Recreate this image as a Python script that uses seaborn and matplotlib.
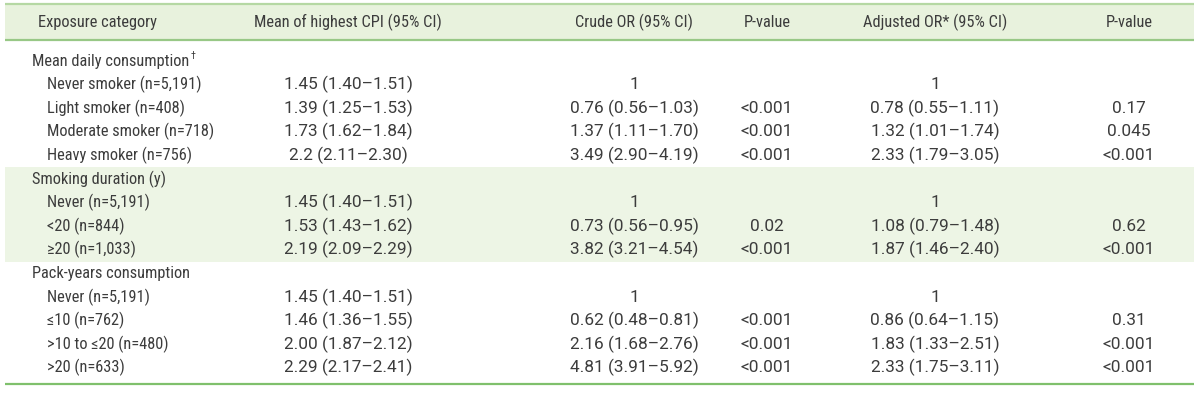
import matplotlib
matplotlib.use("Agg")
import matplotlib.pyplot as plt
from matplotlib import font_manager
import seaborn as sns

# ---------------- data ----------------
headers = ["Exposure category", "Mean of highest CPI (95% CI)", "Crude OR (95% CI)",
           "P-value", "Adjusted OR* (95% CI)", "P-value"]

groups = ["Mean daily consumption", "Smoking duration (y)", "Pack-years consumption"]

categories = [
    ["Never smoker (n=5,191)", "Light smoker (n=408)", "Moderate smoker (n=718)", "Heavy smoker (n=756)"],
    ["Never (n=5,191)", "<20 (n=844)", "\u226520 (n=1,033)"],
    ["Never (n=5,191)", "\u226410 (n=762)", ">10 to \u226420 (n=480)", ">20 (n=633)"],
]

mean_cpi = [
    ["1.45 (1.40\u20131.51)", "1.39 (1.25\u20131.53)", "1.73 (1.62\u20131.84)", "2.2 (2.11\u20132.30)"],
    ["1.45 (1.40\u20131.51)", "1.53 (1.43\u20131.62)", "2.19 (2.09\u20132.29)"],
    ["1.45 (1.40\u20131.51)", "1.46 (1.36\u20131.55)", "2.00 (1.87\u20132.12)", "2.29 (2.17\u20132.41)"],
]

crude_or = [
    ["1", "0.76 (0.56\u20131.03)", "1.37 (1.11\u20131.70)", "3.49 (2.90\u20134.19)"],
    ["1", "0.73 (0.56\u20130.95)", "3.82 (3.21\u20134.54)"],
    ["1", "0.62 (0.48\u20130.81)", "2.16 (1.68\u20132.76)", "4.81 (3.91\u20135.92)"],
]

p_crude = [
    ["", "<0.001", "<0.001", "<0.001"],
    ["", "0.02", "<0.001"],
    ["", "<0.001", "<0.001", "<0.001"],
]

adjusted_or = [
    ["1", "0.78 (0.55\u20131.11)", "1.32 (1.01\u20131.74)", "2.33 (1.79\u20133.05)"],
    ["1", "1.08 (0.79\u20131.48)", "1.87 (1.46\u20132.40)"],
    ["1", "0.86 (0.64\u20131.15)", "1.83 (1.33\u20132.51)", "2.33 (1.75\u20133.11)"],
]

p_adjusted = [
    ["", "0.17", "0.045", "<0.001"],
    ["", "0.62", "<0.001"],
    ["", "0.31", "<0.001", "<0.001"],
]

# ---------------- style ----------------
sns.set_theme(style="white")

# pick a narrow family if one is installed
chosen = None
stretch = "normal"
for fam, st in [("Liberation Sans Narrow", "normal"), ("Roboto Condensed", "normal"),
                ("Open Sans Condensed", "normal"), ("DejaVu Sans", "condensed"),
                ("Roboto", "normal")]:
    try:
        path = font_manager.findfont(font_manager.FontProperties(family=fam, stretch=st),
                                     fallback_to_default=False)
        if path:
            chosen, stretch = fam, st
            break
    except Exception:
        continue
if chosen is None:
    chosen = "DejaVu Sans"
plt.rcParams["font.family"] = [chosen, "DejaVu Sans"]
plt.rcParams["font.stretch"] = stretch

num_family = ["Roboto", "DejaVu Sans"]

W, H = 1200, 417
fig = plt.figure(figsize=(12, 4.17), dpi=100)
ax = fig.add_axes([0, 0, 1, 1])
ax.set_xlim(0, W)
ax.set_ylim(H, 0)
ax.axis("off")
renderer = fig.canvas.get_renderer()

fs = 11.8
fs_num = 12.4
txt_color = "#3c3c3c"
band_color = "#edf5e5"
header_color = "#e8f2dd"

col_centers = [97, 348, 634, 767, 935, 1129]
x_group = 32
x_item = 47
left, right = 5, 1194

# header
ax.axhspan(4, 40, xmin=left / W, xmax=right / W, color=header_color, zorder=0, lw=0)
ax.hlines(4, left, right, color="#b5d8a3", lw=1.6)
ax.hlines(40, left, right, color="#98c886", lw=1.6)
for xc, h in zip(col_centers, headers):
    ax.text(xc, 22, h, ha="center", va="center", fontsize=fs, color=txt_color)

# body
y0, dy = 61, 23.6
row = 0
for gi, g in enumerate(groups):
    n_rows = 1 + len(categories[gi])
    if gi == 1:
        ytop = y0 + (row - 0.5) * dy
        ybot = y0 + (row + n_rows - 0.5) * dy
        ax.axhspan(ytop, ybot, xmin=left / W, xmax=right / W, color=band_color, zorder=0, lw=0)
    y = y0 + row * dy
    t = ax.text(x_group, y, g, ha="left", va="center", fontsize=fs, color=txt_color)
    if gi == 0:
        bb = t.get_window_extent(renderer=renderer)
        xe = ax.transData.inverted().transform((bb.x1, bb.y1))[0]
        ax.text(xe + 1, y - 5, "\u2020", ha="left", va="center", fontsize=fs * 0.6,
                color=txt_color)
    row += 1
    for ci, c in enumerate(categories[gi]):
        y = y0 + row * dy
        ax.text(x_item, y, c, ha="left", va="center", fontsize=fs, color=txt_color)
        vals = [mean_cpi[gi][ci], crude_or[gi][ci], p_crude[gi][ci],
                adjusted_or[gi][ci], p_adjusted[gi][ci]]
        for xc, v in zip(col_centers[1:], vals):
            if v:
                ax.text(xc, y, v, ha="center", va="center", fontsize=fs_num,
                        color=txt_color, family=num_family)
        row += 1

ybottom = y0 + (row - 1) * dy + 16
ax.hlines(ybottom, left, right, color="#7fc06c", lw=1.6)

fig.savefig("out.png", dpi=100)
